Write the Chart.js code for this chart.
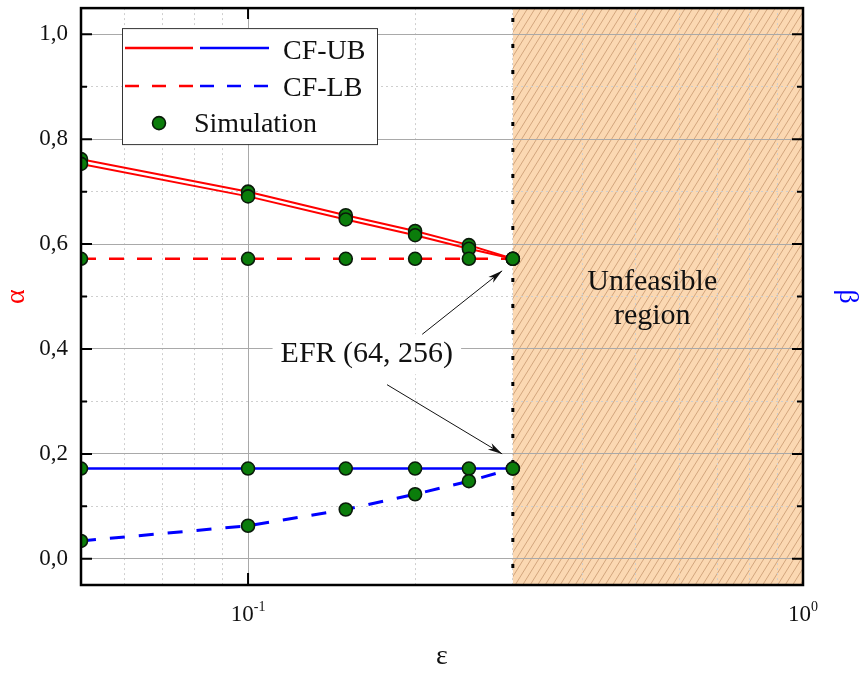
<!DOCTYPE html>
<html>
<head>
<meta charset="utf-8">
<script src="https://cdn.jsdelivr.net/npm/chart.js@4.4.1/dist/chart.umd.min.js"></script>
<style>
  html, body { margin: 0; padding: 0; background: #fff; }
</style>
</head>
<body>
<canvas id="chart" width="861" height="675"></canvas>
<script>
// epsilon values (x axis, log)
const eps = [0.05, 0.1, 0.15, 0.2, 0.25, 0.3];

// alpha (left axis)
const alphaUB1 = [0.762, 0.700, 0.655, 0.625, 0.598, 0.572];
const alphaUB2 = [0.753, 0.691, 0.647, 0.617, 0.591, 0.572];
const alphaLB  = [0.572, 0.572, 0.572, 0.572, 0.572, 0.572];

// beta (right axis)
const betaUB = [0.172, 0.172, 0.172, 0.172, 0.172, 0.172];
const betaLB = [0.034, 0.063, 0.094, 0.123, 0.148, 0.172];

// simulation points
const simAlpha = [alphaUB1, alphaUB2, alphaLB];
const simBeta = [betaUB, betaLB];

// ticks
const yTickValues = [0, 0.1, 0.2, 0.3, 0.4, 0.5, 0.6, 0.7, 0.8, 0.9, 1.0];
const yTickLabels = ['0,0', '', '0,2', '', '0,4', '', '0,6', '', '0,8', '', '1,0'];
const xGridValues = [0.06, 0.07, 0.08, 0.09, 0.1, 0.2, 0.3, 0.4, 0.5, 0.6, 0.7, 0.8, 0.9, 1];
const xTickValues = [0.1, 1];
const xTickExp = ['-1', '0'];

const feasibleLimit = 0.3;

const RED = '#ff0000';
const BLUE = '#0000ff';
const GREEN = '#0b7d0b';
const SERIF = '"Liberation Serif", "Times New Roman", serif';
const MAJOR_GRID = '#a9a9a9';
const MINOR_GRID = '#cfcfcf';

const pts = arr => eps.map((e, i) => ({ x: e, y: arr[i] }));

function lineSet(label, arr, color, width, dash, axis) {
  return {
    label: label, data: pts(arr), yAxisID: axis,
    borderColor: color, borderWidth: width, borderDash: dash,
    pointRadius: 0, fill: false, tension: 0, order: 2, clip: 0
  };
}

function simSet(label, arrs, axis) {
  let data = [];
  arrs.forEach(a => { data = data.concat(pts(a)); });
  return {
    label: label, data: data, yAxisID: axis, showLine: false,
    pointRadius: 6.5, pointBackgroundColor: GREEN, pointBorderColor: '#0a1a0a',
    pointBorderWidth: 1.6, order: 1, clip: { left: 0, top: 0, bottom: 0, right: 10 }
  };
}

function hatch(ctx, x0, y0, x1, y1) {
  ctx.save();
  ctx.beginPath();
  ctx.rect(x0, y0, x1 - x0, y1 - y0);
  ctx.clip();
  ctx.fillStyle = '#fbd8b2';
  ctx.fillRect(x0, y0, x1 - x0, y1 - y0);
  ctx.strokeStyle = '#d2a57d';
  ctx.lineWidth = 1;
  const run = (y1 - y0) * 0.62;
  ctx.beginPath();
  for (let x = x0 - run; x < x1 + 8; x += 7.5) {
    ctx.moveTo(x, y1);
    ctx.lineTo(x + run, y0);
  }
  ctx.stroke();
  ctx.restore();
}

function arrow(ctx, x0, y0, x1, y1) {
  ctx.save();
  ctx.strokeStyle = '#111';
  ctx.fillStyle = '#111';
  ctx.lineWidth = 1;
  ctx.beginPath();
  ctx.moveTo(x0, y0);
  ctx.lineTo(x1, y1);
  ctx.stroke();
  const a = Math.atan2(y1 - y0, x1 - x0);
  const L = 15, w = 0.25;
  ctx.beginPath();
  ctx.moveTo(x1, y1);
  ctx.lineTo(x1 - L * Math.cos(a - w), y1 - L * Math.sin(a - w));
  ctx.lineTo(x1 - L * 0.7 * Math.cos(a), y1 - L * 0.7 * Math.sin(a));
  ctx.lineTo(x1 - L * Math.cos(a + w), y1 - L * Math.sin(a + w));
  ctx.closePath();
  ctx.fill();
  ctx.restore();
}

const decor = {
  id: 'decor',
  beforeDraw(chart) {
    const { ctx, chartArea: ca, scales } = chart;
    const xl = scales.x.getPixelForValue(feasibleLimit);
    hatch(ctx, xl, ca.top, ca.right, ca.bottom);
  },
  beforeDatasetsDraw(chart) {
    const { ctx, chartArea: ca, scales } = chart;
    const xl = scales.x.getPixelForValue(feasibleLimit);
    ctx.save();
    ctx.strokeStyle = '#000';
    ctx.lineWidth = 3;
    ctx.setLineDash([4, 22]);
    ctx.beginPath();
    ctx.moveTo(xl, ca.top + 10);
    ctx.lineTo(xl, ca.bottom);
    ctx.stroke();
    ctx.restore();

    // annotation
    const xs = scales.x, ys = scales.y;
    const tx = xs.getPixelForValue(0.1637), ty = ys.getPixelForValue(0.39);
    ctx.save();
    ctx.font = '30px ' + SERIF;
    const txt = 'EFR (64, 256)';
    const w = ctx.measureText(txt).width;
    ctx.fillStyle = '#fff';
    ctx.fillRect(tx - w / 2 - 8, ty - 20, w + 16, 40);
    ctx.fillStyle = '#111';
    ctx.textAlign = 'center';
    ctx.textBaseline = 'middle';
    ctx.fillText(txt, tx, ty);
    ctx.restore();
    arrow(ctx, xs.getPixelForValue(0.206), ys.getPixelForValue(0.428),
               xs.getPixelForValue(0.287), ys.getPixelForValue(0.549));
    arrow(ctx, xs.getPixelForValue(0.178), ys.getPixelForValue(0.332),
               xs.getPixelForValue(0.287), ys.getPixelForValue(0.200));

    ctx.save();
    ctx.font = '30px ' + SERIF;
    ctx.fillStyle = '#111';
    ctx.textAlign = 'center';
    const ux = xs.getPixelForValue(0.535);
    ctx.fillText('Unfeasible', ux, ys.getPixelForValue(0.513));
    ctx.fillText('region', ux, ys.getPixelForValue(0.447));
    ctx.restore();
  },
  afterDraw(chart) {
    const { ctx, chartArea: ca, scales } = chart;
    const xs = scales.x, ys = scales.y;
    ctx.save();
    // frame
    ctx.strokeStyle = '#000';
    ctx.lineWidth = 2.5;
    ctx.strokeRect(ca.left, ca.top, ca.right - ca.left, ca.bottom - ca.top);

    // inward ticks
    ctx.lineWidth = 2;
    ctx.beginPath();
    yTickValues.forEach((v, i) => {
      const y = ys.getPixelForValue(v);
      const len = yTickLabels[i] ? 11 : 6;
      ctx.moveTo(ca.left, y); ctx.lineTo(ca.left + len, y);
      ctx.moveTo(ca.right, y); ctx.lineTo(ca.right - len, y);
    });
    xTickValues.forEach(v => {
      const x = xs.getPixelForValue(v);
      ctx.moveTo(x, ca.bottom); ctx.lineTo(x, ca.bottom - 12);
      ctx.moveTo(x, ca.top); ctx.lineTo(x, ca.top + 11);
    });
    ctx.stroke();

    // x tick labels with superscripts
    ctx.fillStyle = '#111';
    ctx.textBaseline = 'alphabetic';
    ctx.textAlign = 'left';
    xTickValues.forEach((v, i) => {
      const x = xs.getPixelForValue(v);
      ctx.font = '23px ' + SERIF;
      const w1 = ctx.measureText('10').width;
      ctx.font = '14px ' + SERIF;
      const w2 = ctx.measureText(xTickExp[i]).width;
      const x0 = x - (w1 + w2) / 2;
      ctx.font = '23px ' + SERIF;
      ctx.fillText('10', x0, 621);
      ctx.font = '14px ' + SERIF;
      ctx.fillText(xTickExp[i], x0 + w1, 611);
    });

    // legend
    const lx = ca.left + 41, ly = ca.top + 20;
    ctx.fillStyle = '#fff';
    ctx.fillRect(lx, ly, 255, 116);
    ctx.strokeStyle = '#333';
    ctx.lineWidth = 1;
    ctx.strokeRect(lx + 0.5, ly + 0.5, 255, 116);

    ctx.lineWidth = 2.5;
    ctx.strokeStyle = RED;
    ctx.beginPath(); ctx.moveTo(lx + 3, ly + 20); ctx.lineTo(lx + 71, ly + 20); ctx.stroke();
    ctx.strokeStyle = BLUE;
    ctx.beginPath(); ctx.moveTo(lx + 78, ly + 20); ctx.lineTo(lx + 147, ly + 20); ctx.stroke();
    ctx.setLineDash([14, 13]);
    ctx.strokeStyle = RED;
    ctx.beginPath(); ctx.moveTo(lx + 3, ly + 58); ctx.lineTo(lx + 71, ly + 58); ctx.stroke();
    ctx.strokeStyle = BLUE;
    ctx.beginPath(); ctx.moveTo(lx + 78, ly + 58); ctx.lineTo(lx + 147, ly + 58); ctx.stroke();
    ctx.setLineDash([]);

    ctx.fillStyle = GREEN;
    ctx.strokeStyle = '#0a1a0a';
    ctx.lineWidth = 1.6;
    ctx.beginPath(); ctx.arc(lx + 37, ly + 95, 6.5, 0, Math.PI * 2); ctx.fill(); ctx.stroke();

    ctx.fillStyle = '#111';
    ctx.font = '28px ' + SERIF;
    ctx.fillText('CF-UB', lx + 161, ly + 31);
    ctx.fillText('CF-LB', lx + 161, ly + 68);
    ctx.fillText('Simulation', lx + 72, ly + 104);
    ctx.restore();
  }
};

function fixVertical(width) {
  return s => {
    s.width = width;
    s.paddingTop = 0;
    s.paddingBottom = 0;
  };
}

const chart = new Chart(document.getElementById('chart'), {
  type: 'line',
  data: {
    datasets: [
      lineSet('CF-UB α (1)', alphaUB1, RED, 2, [], 'y'),
      lineSet('CF-UB α (2)', alphaUB2, RED, 2, [], 'y'),
      lineSet('CF-LB α', alphaLB, RED, 2.5, [15, 13], 'y'),
      lineSet('CF-UB β', betaUB, BLUE, 2.5, [], 'y2'),
      lineSet('CF-LB β', betaLB, BLUE, 3, [15, 14], 'y2'),
      simSet('Simulation α', simAlpha, 'y'),
      simSet('Simulation β', simBeta, 'y2')
    ]
  },
  options: {
    responsive: false,
    animation: false,
    devicePixelRatio: 1,
    layout: { padding: { top: 4, left: 0, right: 0, bottom: 0 } },
    plugins: { legend: { display: false }, tooltip: { enabled: false } },
    scales: {
      x: {
        type: 'logarithmic',
        min: 0.05,
        max: 1,
        afterBuildTicks: s => { s.ticks = xGridValues.map(v => ({ value: v, major: xTickValues.includes(v) })); },
        afterFit: s => { s.height = 90; s.paddingLeft = 0; s.paddingRight = 0; },
        ticks: { display: false, autoSkip: false },
        grid: {
          drawTicks: false,
          color: c => (c.tick && c.tick.major) ? MAJOR_GRID : MINOR_GRID,
          lineWidth: 1
        },
        border: { display: false, dash: c => (c.tick && c.tick.major) ? [] : [2, 3] },
        title: {
          display: true, text: 'ε', color: '#111',
          font: { family: SERIF, size: 28, lineHeight: 1 },
          padding: { top: 0, bottom: 4 }
        }
      },
      y: {
        position: 'left',
        min: -0.05,
        max: 1.05,
        afterBuildTicks: s => { s.ticks = yTickValues.map(v => ({ value: v })); },
        afterFit: fixVertical(81),
        ticks: {
          autoSkip: false,
          padding: 13,
          color: '#111',
          font: { family: SERIF, size: 23 },
          callback: (v, i) => yTickLabels[i]
        },
        grid: {
          drawTicks: false,
          color: c => yTickLabels[c.index] ? MAJOR_GRID : MINOR_GRID,
          lineWidth: 1
        },
        border: { display: false, dash: c => (c.tick && !yTickLabels[c.index]) ? [2, 3] : [] },
        title: {
          display: true, text: 'α', color: RED,
          font: { family: SERIF, size: 28, lineHeight: 1 },
          padding: { top: 3, bottom: 0 }
        }
      },
      y2: {
        position: 'right',
        min: -0.05,
        max: 1.05,
        afterBuildTicks: s => { s.ticks = yTickValues.map(v => ({ value: v })); },
        afterFit: fixVertical(58),
        ticks: { display: false },
        grid: { drawOnChartArea: false, drawTicks: false },
        border: { display: false },
        title: {
          display: true, text: 'β', color: BLUE,
          font: { family: SERIF, size: 28, lineHeight: 1 },
          padding: { top: 0, bottom: 0 }
        }
      }
    }
  },
  plugins: [decor]
});
</script>
</body>
</html>
